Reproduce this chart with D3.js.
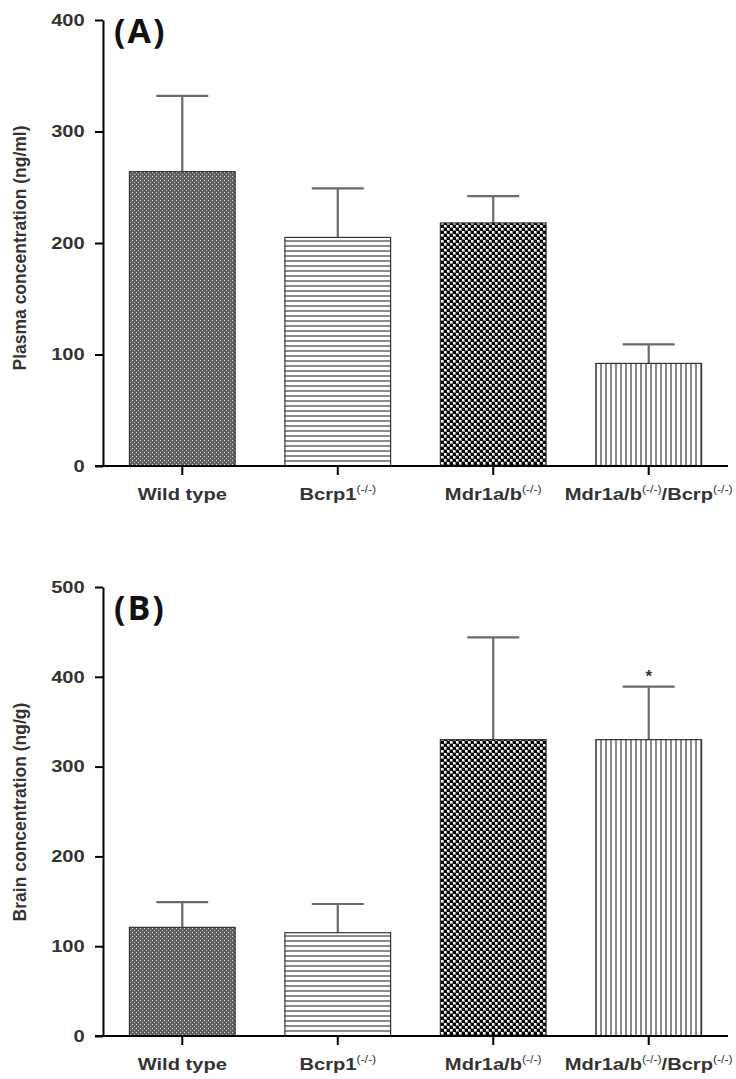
<!DOCTYPE html>
<html>
<head>
<meta charset="utf-8">
<script src="https://cdn.jsdelivr.net/npm/d3@7"></script>
<style>
  body { margin: 0; background: #fff; }
  text { font-family: "Liberation Sans", Arial, sans-serif; }
</style>
</head>
<body>
<svg id="canvas"></svg>
<script>
// group names, split so the genotype part can be drawn as superscript
let groups = ["Wild type", "Bcrp1", "Mdr1a/b", "Mdr1a/b/Bcrp"];
let groupLabels = [
  [["Wild type", 0]],
  [["Bcrp1", 0], ["(-/-)", 1]],
  [["Mdr1a/b", 0], ["(-/-)", 1]],
  [["Mdr1a/b", 0], ["(-/-)", 1], ["/Bcrp", 0], ["(-/-)", 1]]
];

let plasmaMean = [264, 205, 218, 92];
let plasmaSD = [68, 44, 24, 17];
let plasmaTicks = [0, 100, 200, 300, 400];

let brainMean = [121, 115, 330, 330];
let brainSD = [28, 32, 114, 59];
let brainTicks = [0, 100, 200, 300, 400, 500];
let brainStars = ["", "", "", "*"];

let width = 736;
let height = 1079;
let axisX = 103;
let axisRight = 728;
let stretch = 1.22; // the source figure's text is a bit wide

let canvas = d3.select("#canvas").attr("width", width).attr("height", height);

// fill patterns, one per group
let defs = canvas.append("defs");

let p1 = defs.append("pattern").attr("id", "pat0").attr("patternUnits", "userSpaceOnUse")
  .attr("width", 4).attr("height", 4);
p1.append("rect").attr("width", 4).attr("height", 4).attr("fill", "#626262");
p1.append("rect").attr("x", 0).attr("y", 0).attr("width", 1).attr("height", 1).attr("fill", "#dcdcdc");
p1.append("rect").attr("x", 2).attr("y", 2).attr("width", 1).attr("height", 1).attr("fill", "#b4b4b4");

let p2 = defs.append("pattern").attr("id", "pat1").attr("patternUnits", "userSpaceOnUse")
  .attr("width", 6).attr("height", 5);
p2.append("rect").attr("width", 6).attr("height", 5).attr("fill", "#fff");
p2.append("rect").attr("y", 0).attr("width", 6).attr("height", 2).attr("fill", "#8a8a8a");

let p3 = defs.append("pattern").attr("id", "pat2").attr("patternUnits", "userSpaceOnUse")
  .attr("width", 6).attr("height", 6);
p3.append("rect").attr("width", 6).attr("height", 6).attr("fill", "#8c8c8c");
p3.append("rect").attr("x", 0).attr("y", 0).attr("width", 3).attr("height", 3).attr("fill", "#000");
p3.append("rect").attr("x", 3).attr("y", 3).attr("width", 3).attr("height", 3).attr("fill", "#000");
p3.append("rect").attr("x", 3).attr("y", 0).attr("width", 2).attr("height", 2).attr("fill", "#fff");
p3.append("rect").attr("x", 0).attr("y", 3).attr("width", 2).attr("height", 2).attr("fill", "#fff");

let p4 = defs.append("pattern").attr("id", "pat3").attr("patternUnits", "userSpaceOnUse")
  .attr("width", 5).attr("height", 6);
p4.append("rect").attr("width", 5).attr("height", 6).attr("fill", "#fff");
p4.append("rect").attr("x", 0).attr("width", 2).attr("height", 6).attr("fill", "#8a8a8a");

let xScale = d3.scaleBand()
  .domain(groups)
  .range([axisX, axisRight])
  .paddingInner(0.32)
  .paddingOuter(0.17);

let drawPanel = (cfg) => {
  let yScale = d3.scaleLinear().domain([0, cfg.max]).range([cfg.bottom, cfg.top]);
  let g = canvas.append("g");

  let rows = groups.map((d, i) => ({ name: d, i: i, mean: cfg.mean[i], sd: cfg.sd[i] }));

  // error bars (upper only)
  g.selectAll(".err")
    .data(rows)
    .enter()
    .append("path")
    .attr("fill", "none")
    .attr("stroke", "#6a6a6a")
    .attr("stroke-width", 2.2)
    .attr("d", (d) => {
      let cx = xScale(d.name) + xScale.bandwidth() / 2;
      let y0 = yScale(d.mean);
      let y1 = yScale(d.mean + d.sd);
      return "M" + cx + "," + y0 + "V" + y1 + "M" + (cx - 26) + "," + y1 + "H" + (cx + 26);
    });

  g.selectAll(".bar")
    .data(rows)
    .enter()
    .append("rect")
    .attr("x", (d) => xScale(d.name))
    .attr("y", (d) => yScale(d.mean))
    .attr("width", xScale.bandwidth())
    .attr("height", (d) => cfg.bottom - yScale(d.mean))
    .attr("fill", (d) => "url(#pat" + d.i + ")")
    .attr("stroke", "#333")
    .attr("stroke-width", 1.2);

  if (cfg.stars) {
    g.selectAll(".star")
      .data(rows)
      .enter()
      .append("text")
      .attr("x", (d) => xScale(d.name) + xScale.bandwidth() / 2)
      .attr("y", (d) => yScale(d.mean + d.sd) - 5)
      .attr("text-anchor", "middle")
      .attr("font-size", 17)
      .attr("font-weight", "bold")
      .attr("fill", "#333")
      .text((d, i) => cfg.stars[i]);
  }

  let yAxis = d3.axisLeft(yScale).tickValues(cfg.ticks).tickSize(8).tickSizeOuter(0).tickPadding(7);
  let ya = g.append("g")
    .attr("transform", "translate(" + axisX + ",0)")
    .call(yAxis);
  ya.select(".domain").attr("stroke", "#000").attr("stroke-width", 2);
  ya.selectAll(".tick line").attr("stroke", "#000").attr("stroke-width", 2);
  ya.selectAll(".tick text")
    .attr("font-size", 16.5)
    .attr("font-weight", "bold")
    .attr("fill", "#333")
    .attr("font-family", "Liberation Sans, Arial, sans-serif")
    .attr("transform", "scale(" + stretch + ",1)");

  let xAxis = d3.axisBottom(xScale).tickSize(9).tickSizeOuter(0).tickFormat("");
  let xa = g.append("g")
    .attr("transform", "translate(0," + cfg.bottom + ")")
    .call(xAxis);
  xa.select(".domain").attr("stroke", "#000").attr("stroke-width", 2)
    .attr("d", "M" + (axisX - 8) + ",0H" + axisRight);
  xa.selectAll(".tick line").attr("stroke", "#000").attr("stroke-width", 2);

  // category labels with superscripts
  groups.forEach((name, i) => {
    let cx = xScale(name) + xScale.bandwidth() / 2;
    let t = g.append("text")
      .attr("transform", "translate(" + cx + "," + (cfg.bottom + 34) + ") scale(" + stretch + ",1)")
      .attr("text-anchor", "middle")
      .attr("font-size", 16.5)
      .attr("font-weight", "bold")
      .attr("fill", "#333");
    let raised = false;
    groupLabels[i].forEach((part) => {
      let sp = t.append("tspan").text(part[0]);
      if (part[1] && !raised) {
        sp.attr("font-size", 10).attr("dy", -7).attr("font-weight", "normal");
        raised = true;
      } else if (!part[1] && raised) {
        sp.attr("dy", 7);
        raised = false;
      } else if (part[1]) {
        sp.attr("font-size", 10).attr("font-weight", "normal");
      }
    });
  });

  g.append("text")
    .attr("transform", "translate(" + 26 + "," + cfg.labelY + ") rotate(-90)")
    .attr("text-anchor", "middle")
    .attr("font-size", 17.5)
    .attr("font-weight", "bold")
    .attr("fill", "#333")
    .text(cfg.yLabel);

  g.append("text")
    .attr("x", 114)
    .attr("y", cfg.top + cfg.panelDy)
    .attr("font-size", 34)
    .attr("font-weight", "bold")
    .attr("letter-spacing", 2)
    .attr("fill", "#111")
    .style("font-family", "'Open Sans', sans-serif")
    .text(cfg.panel);
};

drawPanel({
  mean: plasmaMean, sd: plasmaSD, ticks: plasmaTicks, max: 400,
  top: 20, bottom: 466, yLabel: "Plasma concentration (ng/ml)", panel: "(A)", panelDy: 23,
  labelY: 248
});

drawPanel({
  mean: brainMean, sd: brainSD, ticks: brainTicks, max: 500,
  top: 587, bottom: 1036, yLabel: "Brain concentration (ng/g)", panel: "(B)", panelDy: 33,
  stars: brainStars, labelY: 812
});
</script>
</body>
</html>
